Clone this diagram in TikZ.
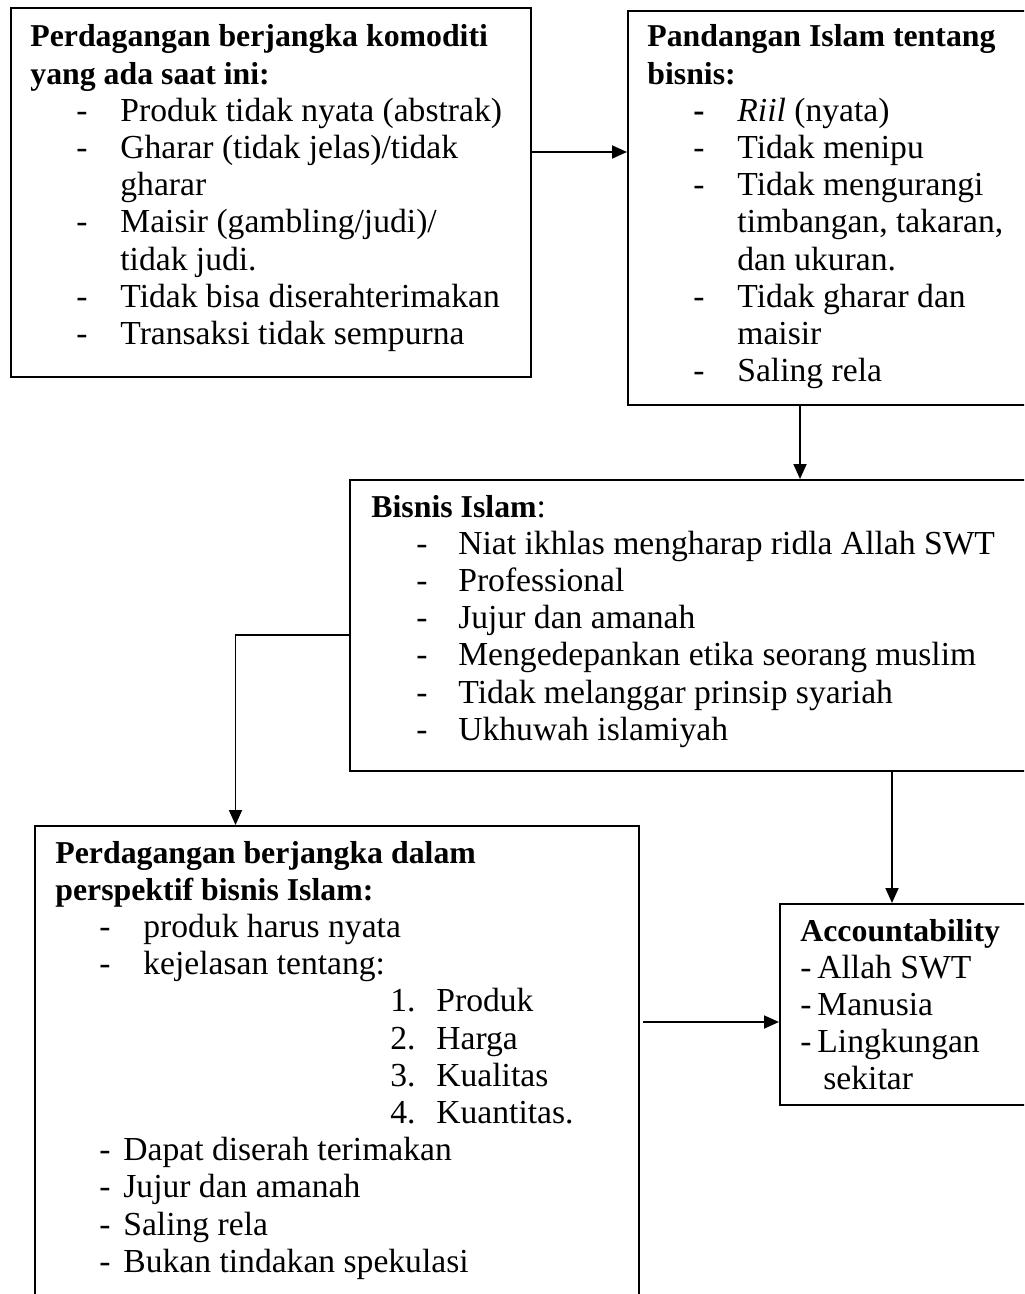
\documentclass[tikz,border=0pt]{standalone}
\usepackage{fontspec}
\setmainfont{Liberation Serif}
\usetikzlibrary{arrows.meta}

% a dash set at a given indent, followed by text starting at a fixed column
\newcommand\dashitem[3]{\hspace*{#1}\makebox[#2][l]{-}#3}
% bold heading line, set a little tighter than the body text
\newcommand\headline[1]{{\fontsize{15.9pt}{18.6pt}\selectfont\bfseries #1}}

\tikzset{
  box/.style={draw=black, line width=1pt, rectangle, inner sep=0pt, anchor=north west},
  txt/.style={inner sep=0pt, anchor=base west, font=\fontsize{16.8pt}{18.6pt}\selectfont},
  arr/.style={draw=black, line width=0.9pt, -{Triangle[length=7.5pt,width=6.5pt]}}
}

\begin{document}
\begin{tikzpicture}[x=0.5pt, y=-0.5pt]
\useasboundingbox (0,0) rectangle (1024,1294);
\clip (0,0) rectangle (1024,1294);

% frames
\node[box, minimum width=260pt, minimum height=184.5pt] (b1) at (10,7) {};
\node[box, minimum width=210pt, minimum height=197pt] (b2) at (627,10) {};
\node[box, minimum width=350pt, minimum height=145.5pt] (b3) at (349,479) {};
\node[box, minimum width=302pt, minimum height=250pt] (b4) at (34,825) {};
\node[box, minimum width=135pt, minimum height=100.5pt] (b5) at (779,903) {};

% contents
\node[txt] (t1) at (30,47) {\begin{tabular}[t]{@{}l@{}}
\headline{Perdagangan berjangka komoditi}\\
\headline{yang ada saat ini:}\\
\dashitem{23pt}{22pt}{Produk tidak nyata (abstrak)}\\
\dashitem{23pt}{22pt}{Gharar (tidak jelas)/tidak}\\
\hspace*{45pt}gharar\\
\dashitem{23pt}{22pt}{Maisir (gambling/judi)/}\\
\hspace*{45pt}tidak judi.\\
\dashitem{23pt}{22pt}{Tidak bisa diserahterimakan}\\
\dashitem{23pt}{22pt}{Transaksi tidak sempurna}
\end{tabular}};

\node[txt] (t2) at (647,47) {\begin{tabular}[t]{@{}l@{}}
\headline{Pandangan Islam tentang}\\
\headline{bisnis:}\\
\hspace*{23pt}\makebox[22pt][l]{\textbf{-}}\textit{Riil} (nyata)\\
\dashitem{23pt}{22pt}{Tidak menipu}\\
\dashitem{23pt}{22pt}{Tidak mengurangi}\\
\hspace*{45pt}timbangan, takaran,\\
\hspace*{45pt}dan ukuran.\\
\dashitem{23pt}{22pt}{Tidak gharar dan}\\
\hspace*{45pt}maisir\\
\dashitem{23pt}{22pt}{Saling rela}
\end{tabular}};

\node[txt] (t3) at (371,517) {\begin{tabular}[t]{@{}l@{}}
\headline{Bisnis Islam}:\\
\dashitem{22.5pt}{21pt}{Niat ikhlas mengharap ridla Allah SWT}\\
\dashitem{22.5pt}{21pt}{Professional}\\
\dashitem{22.5pt}{21pt}{Jujur dan amanah}\\
\dashitem{22.5pt}{21pt}{Mengedepankan etika seorang muslim}\\
\dashitem{22.5pt}{21pt}{Tidak melanggar prinsip syariah}\\
\dashitem{22.5pt}{21pt}{Ukhuwah islamiyah}
\end{tabular}};

\node[txt] (t4) at (55,863) {\begin{tabular}[t]{@{}l@{}}
\headline{Perdagangan berjangka dalam}\\
\headline{perspektif bisnis Islam:}\\
\dashitem{22pt}{22pt}{produk harus nyata}\\
\dashitem{22pt}{22pt}{kejelasan tentang:}\\
\hspace*{167.5pt}\makebox[23pt][l]{1.}Produk\\
\hspace*{167.5pt}\makebox[23pt][l]{2.}Harga\\
\hspace*{167.5pt}\makebox[23pt][l]{3.}Kualitas\\
\hspace*{167.5pt}\makebox[23pt][l]{4.}Kuantitas.\\
\dashitem{22pt}{12pt}{Dapat diserah terimakan}\\
\dashitem{22pt}{12pt}{Jujur dan amanah}\\
\dashitem{22pt}{12pt}{Saling rela}\\
\dashitem{22pt}{12pt}{Bukan tindakan spekulasi}
\end{tabular}};

\node[txt] (t5) at (800,941) {\begin{tabular}[t]{@{}l@{}}
\headline{Accountability}\\
\makebox[8.5pt][l]{-}Allah SWT\\
\makebox[8.5pt][l]{-}Manusia\\
\makebox[8.5pt][l]{-}Lingkungan\\
\hspace*{11.5pt}sekitar
\end{tabular}};

% connectors
\coordinate (p1) at ([yshift=-72.5pt]b1.north east);
\draw[arr] (p1) -- (p1 -| b2.west);

\coordinate (p2) at ([xshift=86.5pt]b2.south west);
\draw[arr] (p2) -- (p2 |- b3.north);

\coordinate (p3) at ([yshift=-78pt]b3.north west);
\coordinate (q3) at ([xshift=100.75pt]b4.north west);
\draw[arr] (p3) -| (q3);

\coordinate (p4) at ([xshift=56.5pt]b5.north west);
\draw[arr] (p4 |- b3.south) -- (p4);

\coordinate (p5) at ([yshift=-59.5pt]b5.north west);
\draw[arr, shorten <=1.5pt] (p5 -| b4.east) -- (p5);
\end{tikzpicture}
\end{document}
